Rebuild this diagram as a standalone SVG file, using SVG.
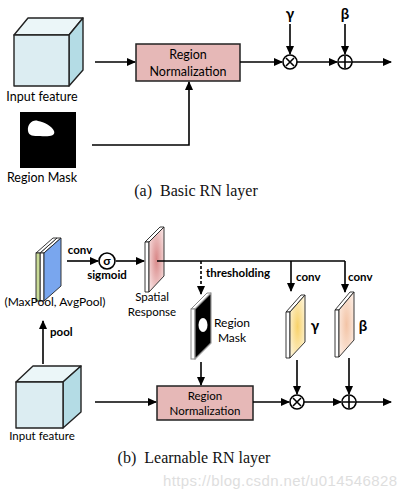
<svg xmlns="http://www.w3.org/2000/svg" width="406" height="498" viewBox="0 0 406 498">
<style>
.t{font-family:Lato,"Liberation Sans",sans-serif;fill:#000}
.b{font-family:Lato,"Liberation Sans",sans-serif;font-weight:bold;fill:#000}
.cap{font-family:"Liberation Serif",serif;font-size:16px;fill:#111}
.ln{stroke:#000;stroke-width:1.6;fill:none}
.arr{stroke:#000;stroke-width:1.6;fill:none;marker-end:url(#ah)}
.box{fill:#e6b8b7;stroke:#222;stroke-width:1.5}
.cube-f{fill:#dcedf2;stroke:#222;stroke-width:1.4;stroke-linejoin:round}
.cube-t{fill:#ebf6f8;stroke:#222;stroke-width:1.4;stroke-linejoin:round}
.cube-r{fill:#b4dce5;stroke:#222;stroke-width:1.4;stroke-linejoin:round}
.op{fill:#fff;stroke:#000;stroke-width:1.6}
.edge{fill:#fff;stroke:#222;stroke-width:0.9;stroke-linejoin:round}
</style>
<defs>
<marker id="ah" markerWidth="9" markerHeight="8" refX="8" refY="4" orient="auto" markerUnits="userSpaceOnUse">
<path d="M0,0 L9,4 L0,8 Z" fill="#000"/>
</marker>
<radialGradient id="gPink" cx="0.5" cy="0.5" r="0.6"><stop offset="0" stop-color="#d98888"/><stop offset="1" stop-color="#f7e0e0"/></radialGradient>
<radialGradient id="gYel" cx="0.5" cy="0.5" r="0.6"><stop offset="0" stop-color="#f8d26a"/><stop offset="1" stop-color="#fdf3d6"/></radialGradient>
<radialGradient id="gPeach" cx="0.5" cy="0.5" r="0.6"><stop offset="0" stop-color="#f3c4a6"/><stop offset="1" stop-color="#fcece2"/></radialGradient>
</defs>

<!-- ===== (a) Basic RN layer ===== -->
<g id="a-input-feature">
<polygon class="cube-t" points="14,35 28,18 83,18 69,35"/>
<polygon class="cube-r" points="69,35 83,18 83,70 69,86"/>
<rect class="cube-f" x="14" y="35" width="55" height="51"/>
<text class="t" x="42" y="101" font-size="12.5" text-anchor="middle">Input feature</text>
</g>
<g id="a-region-mask">
<rect x="20" y="112" width="56" height="56" fill="#000"/>
<path d="M28,131 C27,124 33,119 38,121 C44,122 52,126 54,131 C56,136 48,137 40,136 C33,136 29,136 28,131 Z" fill="#fff"/>
<text class="t" x="42" y="182" font-size="12.5" text-anchor="middle">Region Mask</text>
</g>
<g id="a-rn">
<rect class="box" x="136" y="44" width="104" height="37"/>
<text class="t" x="188" y="59" font-size="12.5" text-anchor="middle">Region</text>
<text class="t" x="188" y="76" font-size="12.5" text-anchor="middle">Normalization</text>
</g>
<g id="a-mul">
<circle class="op" cx="290" cy="62" r="7"/>
<path class="ln" d="M286,58 L294,66 M294,58 L286,66" stroke-width="1.8"/>
</g>
<g id="a-add">
<circle class="op" cx="345" cy="62" r="7"/>
<path class="ln" d="M345,56 V68 M339,62 H351" stroke-width="1.8"/>
</g>
<g id="a-gamma"><text class="b" x="290" y="19" font-size="15" text-anchor="middle">γ</text></g>
<g id="a-beta"><text class="b" x="345" y="19" font-size="15" text-anchor="middle">β</text></g>
<g id="a-connectors">
<line class="arr" x1="95" y1="62" x2="135" y2="62"/>
<path class="arr" d="M92,145 H189 V82"/>
<line class="arr" x1="240" y1="62" x2="282" y2="62"/>
<line class="arr" x1="297" y1="62" x2="337" y2="62"/>
<line class="arr" x1="352" y1="62" x2="391" y2="62"/>
<line class="arr" x1="290" y1="24" x2="290" y2="54"/>
<line class="arr" x1="345" y1="24" x2="345" y2="54"/>
</g>
<text class="cap" x="196" y="196" text-anchor="middle">(a)<tspan dx="8">Basic RN layer</tspan></text>

<!-- ===== (b) Learnable RN layer ===== -->
<g id="b-pooled">
<polygon class="edge" points="40,253 57,238 61,238 44,253"/>
<rect class="edge" x="40" y="253" width="4" height="48"/>
<polygon points="44,253 61,238 61,286 44,301" fill="#79a6ee" stroke="#222" stroke-width="0.9" stroke-linejoin="round"/>
<polygon class="edge" points="36,253 53,238 57,238 40,253"/>
<rect x="36" y="253" width="4" height="48" fill="#c9db97" stroke="#222" stroke-width="0.9"/>
<text class="t" x="55" y="306" font-size="12" text-anchor="middle">(MaxPool, AvgPool)</text>
</g>
<g id="b-sigmoid">
<circle class="op" cx="107" cy="261" r="8" stroke-width="1.8"/>
<text class="b" x="107" y="265" font-size="12" text-anchor="middle">σ</text>
</g>
<g id="b-spatial">
<polygon class="edge" points="145,242 160,227 164,227 149,242"/>
<rect class="edge" x="145" y="242" width="4" height="50"/>
<polygon points="149,242 164,227 164,276 149,292" fill="url(#gPink)" stroke="#222" stroke-width="0.9" stroke-linejoin="round"/>
<text class="t" x="152" y="301" font-size="11.5" text-anchor="middle">Spatial</text>
<text class="t" x="152" y="316" font-size="11.5" text-anchor="middle">Response</text>
</g>
<g id="b-mask">
<polygon points="191,309 207,293 211,293 195,309" fill="#fff" stroke="#888" stroke-width="1"/>
<rect x="191" y="309" width="4" height="50" fill="#fff" stroke="#888" stroke-width="1"/>
<polygon points="195,309 211,293 211,343 195,359" fill="#000" stroke="#999" stroke-width="1.2" stroke-linejoin="round"/>
<ellipse cx="203" cy="325" rx="4.5" ry="7" fill="#fff"/>
<text class="t" x="232" y="327" font-size="12" text-anchor="middle">Region</text>
<text class="t" x="232" y="342" font-size="12" text-anchor="middle">Mask</text>
</g>
<g id="b-gamma">
<polygon class="edge" points="286,312 301,295 305,295 290,312"/>
<rect class="edge" x="286" y="312" width="4" height="46"/>
<polygon points="290,312 305,295 305,342 290,358" fill="url(#gYel)" stroke="#222" stroke-width="0.9" stroke-linejoin="round"/>
<text class="b" x="315" y="331" font-size="15" text-anchor="middle">γ</text>
</g>
<g id="b-beta">
<polygon class="edge" points="335,310 350,292 354,292 339,310"/>
<rect class="edge" x="335" y="310" width="4" height="47"/>
<polygon points="339,310 354,292 354,340 339,357" fill="url(#gPeach)" stroke="#222" stroke-width="0.9" stroke-linejoin="round"/>
<text class="b" x="363" y="331" font-size="15" text-anchor="middle">β</text>
</g>
<g id="b-input-feature">
<polygon class="cube-t" points="16,382 33,366 81,366 63,382"/>
<polygon class="cube-r" points="63,382 81,366 81,412 63,428"/>
<rect class="cube-f" x="16" y="382" width="47" height="46"/>
<text class="t" x="42" y="440" font-size="11.5" text-anchor="middle">Input feature</text>
</g>
<g id="b-rn">
<rect class="box" x="157" y="386" width="96" height="34"/>
<text class="t" x="205" y="400" font-size="11.5" text-anchor="middle">Region</text>
<text class="t" x="205" y="415" font-size="11.5" text-anchor="middle">Normalization</text>
</g>
<g id="b-mul">
<circle class="op" cx="297" cy="402" r="7"/>
<path class="ln" d="M293,398 L301,406 M301,398 L293,406" stroke-width="1.8"/>
</g>
<g id="b-add">
<circle class="op" cx="349" cy="402" r="7"/>
<path class="ln" d="M349,396 V408 M343,402 H355" stroke-width="1.8"/>
</g>
<g id="b-connectors">
<line class="arr" x1="43" y1="364" x2="43" y2="321"/>
<text class="b" x="50" y="336" font-size="11.5">pool</text>
<line class="arr" x1="67" y1="261" x2="98" y2="261"/>
<text class="b" x="80" y="254" font-size="11.5" text-anchor="middle">conv</text>
<text class="b" x="107" y="279" font-size="11.5" text-anchor="middle">sigmoid</text>
<line class="arr" x1="116" y1="261" x2="144" y2="261"/>
<line class="ln" x1="157" y1="261" x2="345" y2="261"/>
<line class="arr" x1="201" y1="261" x2="201" y2="294" stroke-dasharray="3,2"/>
<text class="b" x="206" y="277" font-size="11.5">thresholding</text>
<line class="arr" x1="291" y1="261" x2="291" y2="291"/>
<text class="b" x="296" y="281" font-size="11.5">conv</text>
<line class="arr" x1="345" y1="261" x2="345" y2="292"/>
<text class="b" x="348" y="281" font-size="11.5">conv</text>
<line class="arr" x1="201" y1="362" x2="201" y2="385"/>
<line class="arr" x1="95" y1="402" x2="156" y2="402"/>
<line class="arr" x1="253" y1="402" x2="289" y2="402"/>
<line class="arr" x1="304" y1="402" x2="341" y2="402"/>
<line class="arr" x1="356" y1="402" x2="391" y2="402"/>
<line class="arr" x1="297" y1="360" x2="297" y2="394"/>
<line class="arr" x1="349" y1="358" x2="349" y2="394"/>
</g>
<text class="cap" x="194" y="463" text-anchor="middle">(b)<tspan dx="8">Learnable RN layer</tspan></text>
<text x="280" y="486" font-family="Liberation Sans,Arial,sans-serif" font-size="15" fill="#dedede" text-anchor="middle" textLength="234">https://blog.csdn.net/u014546828</text>
</svg>
